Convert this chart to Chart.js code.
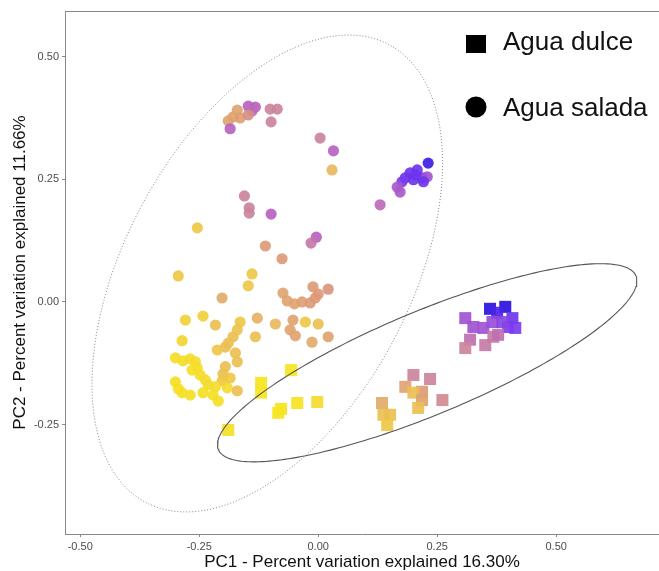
<!DOCTYPE html>
<html>
<head>
<meta charset="utf-8">
<script src="https://cdn.jsdelivr.net/npm/chart.js@4.4.1/dist/chart.umd.min.js"></script>
<style>
  body { margin: 0; background: #fff; }
  #wrap { width: 659px; height: 571px; }
</style>
</head>
<body>
<div id="wrap"><canvas id="pca" width="659" height="571"></canvas></div>
<script>
// Agua salada (circulos)
const saladaX = [-0.147,-0.132,-0.139,-0.170,-0.179,-0.189,-0.164,-0.147,-0.185,-0.101,-0.086,-0.099,0.004,0.032,0.029,
  -0.155,-0.145,-0.145,-0.099,-0.254,-0.004,-0.015,-0.111,-0.076,-0.294,-0.139,-0.147,-0.202,
  -0.074,-0.065,-0.050,-0.034,-0.017,-0.006,-0.011,0.021,0.000,
  -0.279,-0.242,-0.216,-0.164,-0.170,-0.179,-0.189,-0.195,-0.212,-0.128,-0.132,-0.090,-0.053,-0.027,0.000,-0.059,-0.048,-0.013,0.021,-0.286,
  -0.300,-0.284,-0.269,-0.258,-0.254,-0.248,-0.237,-0.231,-0.174,-0.170,-0.195,-0.200,-0.202,-0.300,-0.294,-0.286,-0.269,-0.242,-0.221,-0.210,-0.191,-0.170,-0.216,-0.265,-0.185,
  0.231,0.208,0.193,0.183,0.176,0.200,0.218,0.229,0.221,0.166,0.172,0.130,0.204];
const saladaY = [0.399,0.397,0.389,0.391,0.377,0.369,0.375,0.381,0.353,0.393,0.393,0.367,0.334,0.308,0.269,
  0.216,0.192,0.181,0.179,0.151,0.132,0.120,0.114,0.088,0.053,0.057,0.033,0.008,
  0.018,0.002,-0.004,0.000,-0.002,0.008,0.031,0.026,0.016,
  -0.037,-0.029,-0.047,-0.041,-0.057,-0.071,-0.084,-0.092,-0.098,-0.033,-0.071,-0.045,-0.037,-0.041,-0.045,-0.057,-0.069,-0.082,-0.071,-0.079,
  -0.114,-0.120,-0.116,-0.122,-0.135,-0.149,-0.159,-0.169,-0.104,-0.122,-0.132,-0.147,-0.161,-0.163,-0.177,-0.185,-0.190,-0.185,-0.190,-0.202,-0.175,-0.181,-0.173,-0.139,-0.155,
  0.283,0.269,0.263,0.253,0.245,0.249,0.253,0.255,0.245,0.234,0.224,0.198,0.259];
const saladaGrad = [0.75,0.75,0.72,0.45,0.45,0.45,0.47,0.55,0.75,0.62,0.62,0.62,0.62,0.75,0.35,
  0.62,0.62,0.62,0.75,0.25,0.75,0.66,0.5,0.5,0.25,0.25,0.25,0.42,
  0.45,0.45,0.45,0.47,0.5,0.5,0.5,0.52,0.5,
  0.2,0.2,0.3,0.25,0.28,0.3,0.3,0.3,0.25,0.38,0.3,0.35,0.45,0.25,0.3,0.45,0.45,0.42,0.45,0.15,
  0.08,0.08,0.08,0.1,0.08,0.08,0.1,0.1,0.3,0.3,0.3,0.3,0.25,0.05,0.05,0.05,0.05,0.05,0.05,0.05,0.1,0.3,0.08,0.05,0.25,
  0.97,0.9,0.9,0.9,0.88,0.9,0.9,0.8,0.9,0.78,0.78,0.72,0.9];

// Agua dulce (cuadrados)
const dulceX = [-0.057,-0.120,-0.120,-0.084,-0.078,-0.044,-0.002,-0.189,
  0.200,0.235,0.261,0.183,0.218,0.200,0.218,0.210,0.134,0.137,0.151,0.145,
  0.361,0.393,0.376,0.408,0.414,0.399,0.309,0.326,0.347,0.366,0.387,0.319,0.309,0.351,0.368,0.378];
const dulceY = [-0.139,-0.165,-0.185,-0.226,-0.218,-0.206,-0.204,-0.261,
  -0.149,-0.157,-0.200,-0.173,-0.183,-0.185,-0.200,-0.216,-0.206,-0.230,-0.230,-0.251,
  -0.014,-0.010,-0.022,-0.033,-0.053,-0.051,-0.033,-0.051,-0.053,-0.041,-0.041,-0.077,-0.094,-0.088,-0.071,-0.067];
const dulceGrad = [0,0,0,0,0,0.02,0.1,0.05,
  0.62,0.62,0.58,0.45,0.5,0.3,0.45,0.3,0.42,0.3,0.3,0.25,
  1,1,0.95,0.9,0.88,0.88,0.8,0.8,0.8,0.82,0.85,0.7,0.62,0.66,0.66,0.7];

// elipses: centro x, centro y, semieje mayor, semieje menor, angulo (grados)
const elipseSalada = [-0.107, 0.058, 0.532, 0.298, 60.6];
const elipseDulce = [0.229, -0.124, 0.473, 0.106, 21.9];

const xTicks = [-0.50, -0.25, 0.00, 0.25, 0.50];
const yTicks = [-0.25, 0.00, 0.25, 0.50];

const paleta = [
  [0.00, [247, 229, 30]],
  [0.20, [240, 208, 58]],
  [0.35, [232, 184, 96]],
  [0.50, [220, 154, 120]],
  [0.62, [204, 132, 156]],
  [0.75, [184, 98, 192]],
  [0.88, [123, 60, 240]],
  [1.00, [42, 18, 224]]
];

function colorDe(g) {
  for (let i = 1; i < paleta.length; i++) {
    if (g <= paleta[i][0]) {
      const [g0, c0] = paleta[i - 1];
      const [g1, c1] = paleta[i];
      const f = (g - g0) / (g1 - g0);
      const c = c0.map((v, k) => Math.round(v + (c1[k] - v) * f));
      return 'rgba(' + c.join(',') + ',0.92)';
    }
  }
  return 'rgba(42,18,224,0.92)';
}

function puntos(xs, ys) {
  return xs.map((x, i) => ({ x: x, y: ys[i] }));
}

function contorno(e) {
  const [cx, cy, a, b, ang] = e;
  const th = ang * Math.PI / 180;
  const out = [];
  for (let i = 0; i <= 240; i++) {
    const t = i / 240 * 2 * Math.PI;
    out.push({
      x: cx + a * Math.cos(t) * Math.cos(th) - b * Math.sin(t) * Math.sin(th),
      y: cy + a * Math.cos(t) * Math.sin(th) + b * Math.sin(t) * Math.cos(th)
    });
  }
  return out;
}

Chart.defaults.font.family = "'Liberation Sans', Arial, sans-serif";

const marco = {
  id: 'marco',
  afterDraw(chart) {
    const { ctx, chartArea } = chart;
    ctx.save();
    ctx.strokeStyle = '#888';
    ctx.lineWidth = 1;
    ctx.beginPath();
    ctx.moveTo(chartArea.left, chartArea.top + 0.5);
    ctx.lineTo(chartArea.right, chartArea.top + 0.5);
    ctx.stroke();

    // leyenda
    ctx.fillStyle = '#000';
    ctx.fillRect(466, 35, 20, 18);
    ctx.beginPath();
    ctx.arc(476, 107, 10.5, 0, 2 * Math.PI);
    ctx.fill();
    ctx.fillStyle = '#111';
    ctx.font = "26px 'Liberation Sans', Arial, sans-serif";
    ctx.textBaseline = 'alphabetic';
    ctx.fillText('Agua dulce', 503, 50);
    ctx.fillText('Agua salada', 503, 116);
    ctx.restore();
  }
};

const ctx = document.getElementById('pca').getContext('2d');
new Chart(ctx, {
  type: 'scatter',
  data: {
    datasets: [
      {
        label: 'elipse salada',
        data: contorno(elipseSalada),
        showLine: true,
        pointRadius: 0,
        borderColor: '#777',
        borderWidth: 0.9,
        borderDash: [1, 2],
        fill: false,
        order: 0
      },
      {
        label: 'elipse dulce',
        data: contorno(elipseDulce),
        showLine: true,
        pointRadius: 0,
        borderColor: '#555',
        borderWidth: 1.1,
        fill: false,
        order: 0
      },
      {
        label: 'Agua dulce',
        data: puntos(dulceX, dulceY),
        pointStyle: 'rect',
        pointRadius: 8.5,
        borderWidth: 0,
        backgroundColor: c => colorDe(dulceGrad[c.dataIndex]),
        order: 1
      },
      {
        label: 'Agua salada',
        data: puntos(saladaX, saladaY),
        pointStyle: 'circle',
        pointRadius: 5.6,
        borderWidth: 0,
        backgroundColor: c => colorDe(saladaGrad[c.dataIndex]),
        order: 1
      }
    ]
  },
  options: {
    responsive: false,
    animation: false,
    layout: { autoPadding: false, padding: { top: 11, right: 0, bottom: 0, left: 0 } },
    plugins: { legend: { display: false }, tooltip: { enabled: false } },
    scales: {
      x: {
        type: 'linear',
        min: -0.532,
        max: 0.716,
        afterBuildTicks: s => { s.ticks = xTicks.map(v => ({ value: v })); },
        afterFit: s => { s.height = 37; },
        ticks: {
          callback: v => v.toFixed(2),
          color: '#4d4d4d',
          font: { size: 11 },
          padding: 3,
          maxRotation: 0,
          autoSkip: false
        },
        grid: { drawOnChartArea: false, drawTicks: true, tickLength: 3, color: '#888' },
        border: { display: true, color: '#888', width: 1 },
        title: {
          display: true,
          text: 'PC1 - Percent variation explained 16.30%',
          color: '#111',
          font: { size: 17, lineHeight: 1 },
          padding: { top: 0, bottom: 0 }
        }
      },
      y: {
        type: 'linear',
        min: -0.473,
        max: 0.593,
        afterBuildTicks: s => { s.ticks = yTicks.map(v => ({ value: v })); },
        afterFit: s => { s.width = 65; },
        ticks: {
          callback: v => v.toFixed(2),
          color: '#4d4d4d',
          font: { size: 11 },
          padding: 3,
          autoSkip: false
        },
        grid: { drawOnChartArea: false, drawTicks: true, tickLength: 3, color: '#888' },
        border: { display: true, color: '#888', width: 1 },
        title: {
          display: true,
          text: 'PC2 - Percent variation explained 11.66%',
          color: '#111',
          font: { size: 17, lineHeight: 1 },
          padding: { top: 12, bottom: 0 }
        }
      }
    }
  },
  plugins: [marco]
});
</script>
</body>
</html>
